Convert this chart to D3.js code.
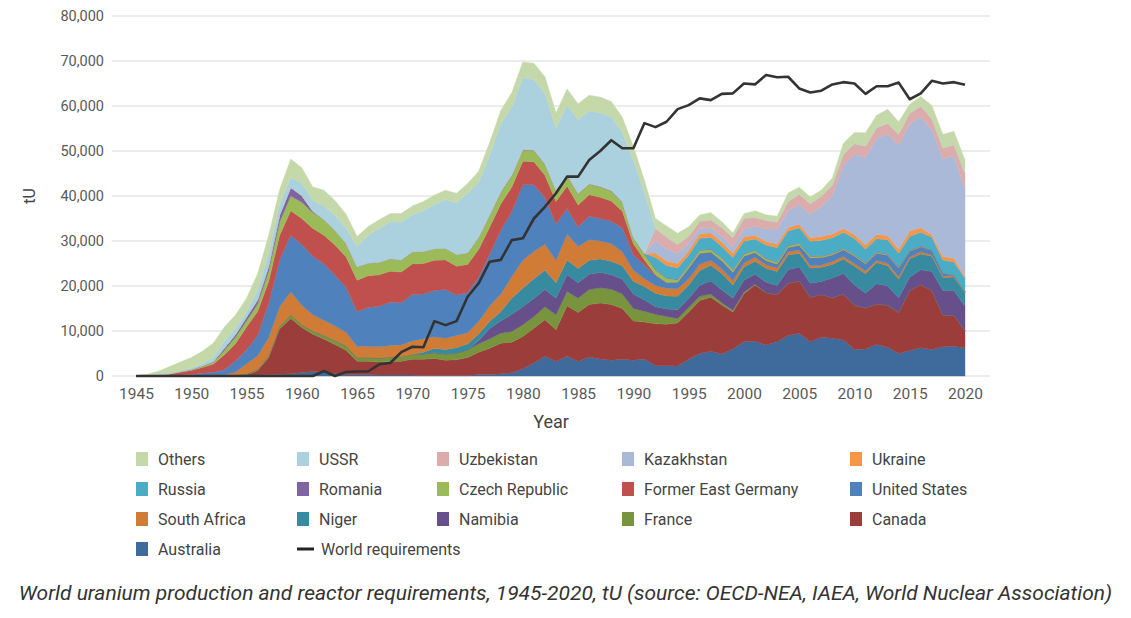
<!DOCTYPE html>
<html><head><meta charset="utf-8">
<script src="https://cdn.jsdelivr.net/npm/d3@7"></script>
<style>
body{margin:0;background:#fff;}
text{font-family:Roboto,"Noto Sans",sans-serif;}
</style></head><body>
<svg id="chart" width="1131" height="618"></svg>
<script>
const years = [1945,1946,1947,1948,1949,1950,1951,1952,1953,1954,1955,1956,1957,1958,1959,1960,1961,1962,1963,1964,1965,1966,1967,1968,1969,1970,1971,1972,1973,1974,1975,1976,1977,1978,1979,1980,1981,1982,1983,1984,1985,1986,1987,1988,1989,1990,1991,1992,1993,1994,1995,1996,1997,1998,1999,2000,2001,2002,2003,2004,2005,2006,2007,2008,2009,2010,2011,2012,2013,2014,2015,2016,2017,2018,2019,2020];

const australia = [0,0,0,0,0, 0,0,0,0,50, 100,200,300,400,500, 800,1000,1000,500,300, 300,300,200,200,200, 200,100,100,100,100, 100,360,360,500,700, 1600,2900,4400,3200,4400, 3200,4200,3800,3500,3700, 3500,3800,2300,2300,2200, 3700,5000,5500,4900,6000, 7600,7700,6900,7600,9000, 9500,7600,8600,8400,8000, 5900,6000,7000,6400,5000, 5650,6300,5900,6500,6600, 6200];
const canada = [0,0,0,0,0, 0,0,0,100,100, 200,1000,3800,10100,12300, 10000,8300,7200,6500,5400, 3000,3000,2900,3000,3100, 3500,3600,3800,3400,3500, 4000,4900,5800,6800,6800, 7200,7700,8100,7100,11200, 10900,11700,12400,12400,11300, 8700,8200,9300,9200,9600, 10500,11800,12000,10900,8200, 10700,12500,11600,10500,11600, 11600,9900,9500,9000,10200, 9800,9100,9000,9300,9100, 13300,14000,13100,7000,6900, 3900];
const france = [0,0,0,0,30, 50,100,100,100,100, 200,300,400,500,800, 600,700,800,900,1000, 800,800,900,1000,1000, 1100,1200,1300,1400,1500, 1700,1900,2100,2200,2400, 2600,2600,2900,3300,3200, 3200,3300,3400,3400,3200, 2800,2400,2100,1700,1000, 1000,900,700,500,400, 300,200,20,10,0, 0,0,0,0,0, 0,0,0,0,0, 0,0,0,0,0, 0];
const namibia = [0,0,0,0,0, 0,0,0,0,0, 0,0,0,0,0, 0,0,0,0,0, 0,0,0,0,0, 0,0,0,0,0, 0,650,2300,2700,3800, 4000,4000,3800,3700,3700, 3400,3400,3400,3200,3300, 3200,2500,1700,1700,1900, 2000,2450,2900,2800,2700, 2700,2200,2300,2000,3000, 3100,3100,2900,4400,4600, 4500,3300,4500,4300,3300, 3000,3300,4200,5500,5500, 5400];
const niger = [0,0,0,0,0, 0,0,0,0,0, 0,0,0,0,0, 0,0,0,0,0, 0,0,0,0,0, 0,400,900,1000,1200, 1300,1500,1600,2100,3600, 4100,4400,4300,3400,3300, 3200,3100,3000,3000,3000, 2800,3000,3000,2900,3000, 3000,3300,3500,3700,2900, 2900,2900,3100,3100,3300, 3100,3400,3150,3000,3200, 4200,4350,4700,4500,4100, 4100,3500,3400,2900,3000, 3000];
const southAfrica = [0,0,0,0,0, 0,0,50,100,600, 2200,3000,4000,4400,5100, 4300,3600,3400,3200,3000, 2500,2500,2500,2600,2600, 3000,3000,2600,2500,2700, 2500,2800,3400,3900,4800, 6200,6100,5800,5000,5700, 4900,4600,4000,3900,3100, 2500,1700,1700,1700,1700, 1400,1400,1100,970,1000, 900,900,800,800,700, 700,500,500,650,560, 580,580,470,530,570, 390,490,310,350,350, 250];
const unitedStates = [0,0,50,100,200, 300,500,700,1100,2500, 3100,4500,7500,10400,12600, 13500,13000,12500,11300,10000, 7700,8600,9000,9600,9400, 10300,9900,10300,10800,9000, 8900,9800,11500,14200,14400, 16800,14800,10300,8100,5700, 4300,5200,5000,5000,5300, 3400,3000,2200,1200,1400, 2300,2400,1800,1800,1800, 1500,1000,900,800,900, 1000,1700,1650,1400,1450, 1660,1540,1600,1800,1900, 1260,1100,940,580,70, 10];
const eastGermany = [0,20,150,300,600, 900,1300,1800,3300,3800, 5100,5300,5000,5500,5400, 5800,6200,6400,6700,6800, 7000,7100,7000,6900,6800, 6800,6800,6700,6600,6400, 6300,6200,6000,5800,5500, 5200,5100,5000,5000,5000, 4900,4800,4700,4500,3700, 2500,1200,200,100,50, 40,40,30,30,30, 30,30,30,30,30, 30,30,30,30,30, 30,30,30,30,30, 30,30,30,30,30, 30];
const czech = [0,20,50,100,150, 200,300,400,1000,1500, 1400,1700,2300,3000,3300, 3600,3500,3500,3300,3000, 3000,2800,2800,2800,2700, 2700,2700,2600,2600,2600, 2600,2600,2600,2600,2500, 2500,2500,2400,2400,2400, 2400,2300,2300,2200,2000, 1300,1300,1100,950,540, 600,600,600,600,600, 500,460,470,450,410, 410,360,310,260,260, 250,230,230,200,190, 160,140,0,0,0, 0];
const romania = [0,0,0,0,20, 50,100,200,500,600, 800,900,1100,1500,1900, 1500,300,0,0,0, 0,0,0,0,0, 0,0,0,0,0, 0,150,150,150,150, 150,150,150,150,150, 150,150,150,150,150, 150,150,120,100,100, 100,100,100,100,100, 80,80,80,80,80, 80,80,80,80,80, 80,80,80,80,80, 80,80,50,0,0, 0];
const russia = [0,0,0,0,0, 0,0,0,0,0, 0,0,0,0,0, 0,0,0,0,0, 0,0,0,0,0, 0,0,0,0,0, 0,0,0,0,0, 0,0,0,0,0, 0,0,0,0,0, 0,0,2600,2700,2500, 2200,2600,2600,2500,2600, 2760,2500,2900,3150,3200, 3430,3260,3410,3520,3560, 3560,2990,2870,3140,2990, 3060,3000,2920,2900,2910, 2850];
const ukraine = [0,0,0,0,0, 0,0,0,0,0, 0,0,0,0,0, 0,0,0,0,0, 0,0,0,0,0, 0,0,0,0,0, 0,0,0,0,0, 0,0,0,0,0, 0,0,0,0,0, 0,0,1000,1000,1000, 1000,1000,1000,1000,1000, 1000,750,800,800,800, 800,800,846,800,840, 850,890,960,920,930, 1200,1000,550,790,800, 400];
const kazakhstan = [0,0,0,0,0, 0,0,0,0,0, 0,0,0,0,0, 0,0,0,0,0, 0,0,0,0,0, 0,0,0,0,0, 0,0,0,0,0, 0,0,0,0,0, 0,0,0,0,0, 0,0,2800,2700,2240, 1630,1210,1090,1270,1370, 1740,2050,2800,3300,3720, 4360,5280,6640,8520,14020, 17800,19450,21320,22570,23130, 23800,24590,23320,21700,22800, 19480];
const uzbekistan = [0,0,0,0,0, 0,0,0,0,0, 0,0,0,0,0, 0,0,0,0,0, 0,0,0,0,0, 0,0,0,0,0, 0,0,0,0,0, 0,0,0,0,0, 0,0,0,0,0, 0,0,2700,2600,2000, 1600,1600,1800,1900,2100, 2350,1960,1860,1600,2000, 2300,2260,2320,2340,2430, 2400,2500,2400,2400,2400, 2385,2404,2404,2404,2404, 3500];
const ussr = [0,50,100,150,200, 300,500,900,1500,1300, 1200,2200,2800,2500,2200, 2800,2400,3000,3300,3400, 4500,6200,7500,8100,8400, 8200,9100,9800,10800,11500, 13200,12150,13350,15050,15150, 15950,15650,15750,13650,15450, 16450,16150,16350,16350,15450, 17150,13450,0,0,0, 0,0,0,0,0, 0,0,0,0,0, 0,0,0,0,0, 0,0,0,0,0, 0,0,0,0,0, 0];
const others = [100,300,700,1400,1900, 2300,2700,3200,3200,3000, 3000,3600,4000,3200,4100, 3400,3000,3500,3300,3100, 2200,1900,1900,1900,1900, 2000,2000,2100,2100,2100, 2200,2500,2800,3000,3200, 3500,3600,3600,3500,3600, 3500,3500,3500,3400,3300, 3000,2800,2200,2500,2470, 2100,1400,1600,1300,1000, 1000,1500,1250,1300,1900, 1600,1500,1400,1600,2500, 2500,3000,2800,3100,2800, 2000,2200,3000,3000,3000, 3000];
const requirements = [0,0,0,0,0, 0,0,0,0,0, 0,0,0,0,0, 0,0,1100,0,900, 1000,1000,2600,2900,5300, 6500,6400,12200,11300,12200, 17600,20600,25400,25800,30200, 30600,35000,37600,40600,44300, 44300,48000,50000,52400,50600, 50600,56200,55300,56500,59300, 60200,61700,61300,62700,62800, 65000,64800,66900,66400,66500, 63900,63000,63400,64800,65300, 65000,62700,64400,64400,65200, 61500,62800,65600,65000,65300, 64700];

const yTicks = [0,10000,20000,30000,40000,50000,60000,70000,80000];
const xTicks = [1945,1950,1955,1960,1965,1970,1975,1980,1985,1990,1995,2000,2005,2010,2015,2020];

// bottom-to-top stacking order
const seriesDefs = [
  {key:"Australia", values:australia, color:"#3f6a9c"},
  {key:"Canada", values:canada, color:"#9b3e3b"},
  {key:"France", values:france, color:"#78953d"},
  {key:"Namibia", values:namibia, color:"#664f8b"},
  {key:"Niger", values:niger, color:"#378a9f"},
  {key:"South Africa", values:southAfrica, color:"#d07c36"},
  {key:"United States", values:unitedStates, color:"#4f81bd"},
  {key:"Former East Germany", values:eastGermany, color:"#c0504d"},
  {key:"Czech Republic", values:czech, color:"#9bbb59"},
  {key:"Romania", values:romania, color:"#8064a2"},
  {key:"Russia", values:russia, color:"#4bacc6"},
  {key:"Ukraine", values:ukraine, color:"#f79646"},
  {key:"Kazakhstan", values:kazakhstan, color:"#a9b9d7"},
  {key:"Uzbekistan", values:uzbekistan, color:"#dcabab"},
  {key:"USSR", values:ussr, color:"#abd1de"},
  {key:"Others", values:others, color:"#c5d8aa"}
];
const legendOrder = ["Others","USSR","Uzbekistan","Kazakhstan","Ukraine","Russia","Romania","Czech Republic","Former East Germany","United States","South Africa","Niger","Namibia","France","Canada","Australia","World requirements"];

const table = years.map((yr,i)=>{
  const row = {year:yr};
  seriesDefs.forEach(s=>row[s.key]=s.values[i]);
  return row;
});

const svg = d3.select("#chart");
const x = d3.scaleLinear().domain([1945,2020]).range([136,965]);
const y = d3.scaleLinear().domain([0,80000]).range([376,16]);

// grid
svg.append("g").selectAll("line").data(yTicks).join("line")
  .attr("x1",112).attr("x2",990)
  .attr("y1",d=>y(d)).attr("y2",d=>y(d))
  .attr("stroke","#d9d9d9").attr("stroke-width",1.2);

// stacked areas
const stack = d3.stack().keys(seriesDefs.map(s=>s.key));
const layers = stack(table);
const area = d3.area().x(d=>x(d.data.year)).y0(d=>y(d[0])).y1(d=>y(d[1]));
const colorOf = Object.fromEntries(seriesDefs.map(s=>[s.key,s.color]));
svg.append("g").selectAll("path").data(layers).join("path")
  .attr("d",area).attr("fill",d=>colorOf[d.key])
  .attr("stroke",d=>colorOf[d.key]).attr("stroke-width",0.4);

// requirements line
const line = d3.line().x((d,i)=>x(years[i])).y(d=>y(d));
svg.append("path").datum(requirements).attr("d",line)
  .attr("fill","none").attr("stroke","#333").attr("stroke-width",2.6)
  .attr("stroke-linejoin","round");

// axes
const yAxis = svg.append("g").attr("transform","translate(112,0)")
  .call(d3.axisLeft(y).tickValues(yTicks).tickFormat(d3.format(",")).tickSize(0).tickPadding(8));
yAxis.select(".domain").remove();
yAxis.selectAll("text").attr("font-size",14.5).attr("fill","#595959").style("font-family","Roboto");

const xAxis = svg.append("g").attr("transform","translate(0,376)")
  .call(d3.axisBottom(x).tickValues(xTicks).tickFormat(d3.format("d")).tickSize(0).tickPadding(12));
xAxis.select(".domain").remove();
xAxis.selectAll("text").attr("font-size",15.5).attr("fill","#595959").style("font-family","Roboto");

svg.append("text").attr("x",551).attr("y",428).attr("text-anchor","middle")
  .attr("font-size",18).attr("fill","#444").text("Year");
svg.append("text").attr("transform","translate(35,196) rotate(-90)").attr("text-anchor","middle")
  .attr("font-size",16).attr("fill","#444").text("tU");

// legend
const colX = [136,297,437,622,850];
const rowY = [459,489,519,549];
const lg = svg.append("g");
legendOrder.forEach((name,i)=>{
  const cx = colX[i%5], cy = rowY[Math.floor(i/5)];
  if(name==="World requirements"){
    lg.append("rect").attr("x",cx).attr("y",cy-1.5).attr("width",17).attr("height",3).attr("fill","#222");
    lg.append("text").attr("x",cx+24).attr("y",cy).attr("dy","0.35em")
      .attr("font-size",16).attr("fill","#444").text(name);
  } else {
    lg.append("rect").attr("x",cx).attr("y",cy-7).attr("width",12).attr("height",14).attr("fill",colorOf[name]);
    lg.append("text").attr("x",cx+22).attr("y",cy).attr("dy","0.35em")
      .attr("font-size",16).attr("fill","#444").text(name);
  }
});

// caption
const cap = svg.append("text").attr("x",565.5).attr("y",600).attr("text-anchor","middle")
  .attr("font-size",18).attr("font-style","italic").attr("fill","#333")
  .text("World uranium production and reactor requirements, 1945-2020, tU (source: OECD-NEA, IAEA, World Nuclear Association)");
const len = cap.node().getComputedTextLength();
cap.attr("font-size", 18*1094/len);
</script></body></html>
